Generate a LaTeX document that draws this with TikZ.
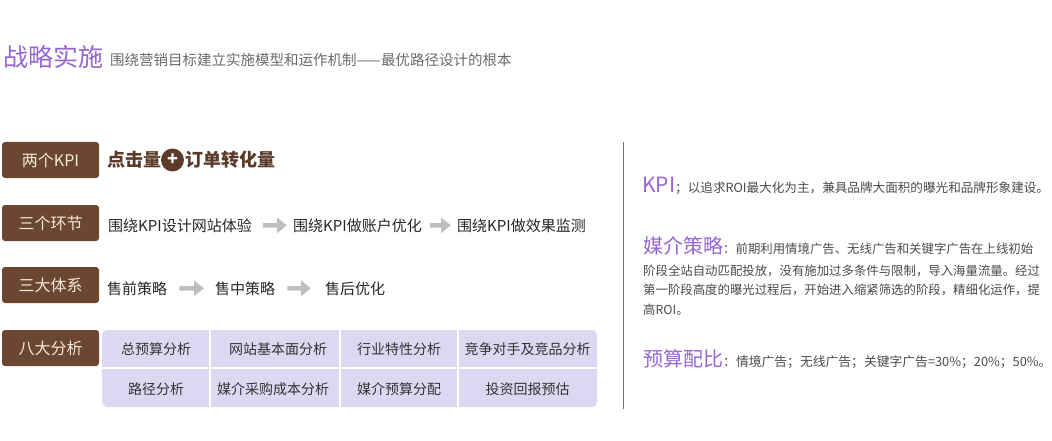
\documentclass[tikz,border=0pt]{standalone}
\usepackage{fontspec}
\setmainfont{Noto Sans CJK SC}
\usetikzlibrary{arrows.meta}
\definecolor{boxbrown}{HTML}{6B4732}
\definecolor{tbrown}{HTML}{5A3A28}
\definecolor{purp}{HTML}{9565D2}
\definecolor{lav}{HTML}{DDD7F2}
\definecolor{arrgray}{HTML}{BEBEBE}
\definecolor{subgray}{HTML}{6A6A6A}
\definecolor{bodygray}{HTML}{4A4A4A}
\definecolor{cream}{HTML}{F5E9D9}
\definecolor{linegray}{HTML}{707070}
\newcommand\myfs[1]{\fontsize{#1}{#1}\selectfont}
\tikzset{
  lbl/.style={fill=boxbrown, rounded corners=3pt, minimum width=97pt, minimum height=36pt,
    inner sep=0pt, text=cream, font=\myfs{16}},
  txt/.style={anchor=base west, inner sep=0pt},
  flow/.style={txt, text=black!85, font=\myfs{15}},
  garrow/.style={draw=arrgray, line width=4.5pt, -{Triangle[length=10pt,width=15pt]},
    shorten <=5pt, shorten >=6pt},
  cell/.style={inner sep=0pt, text=black!80, font=\myfs{14}},
  rtxt/.style={txt, text=bodygray, font=\myfs{12.4}},
}
\begin{document}
\begin{tikzpicture}[x=1pt,y=-1pt]
\useasboundingbox (0,0) rectangle (1052,441);

% title
\node[txt, text=purp, font=\myfs{25}] (title) at (3,67) {战略实施};
\node[txt, text=subgray, font=\myfs{14.5}] (sub) at (110,66) {围绕营销目标建立实施模型和运作机制——最优路径设计的根本};

% labels
\node[lbl] (b1) at (50.5,160) {两个KPI};
\node[lbl] (b2) at (50.5,223) {三个环节};
\node[lbl] (b3) at (50.5,285) {三大体系};
\node[lbl] (b4) at (50.5,348) {八大分析};

% row 1
\node[txt, text=tbrown, font=\myfs{18}\bfseries] (click) at (107,166) {点击量};
\node[circle, fill=tbrown, minimum size=23pt, inner sep=0pt, text=white, font=\myfs{18}\bfseries] (plus) at (172.5,160) {+};
\node[txt, text=tbrown, font=\myfs{18}\bfseries] (order) at (185,166) {订单转化量};

% row 2
\node[flow] (r2a) at (108,231) {围绕KPI设计网站体验};
\node[flow] (r2b) at (293,231) {围绕KPI做账户优化};
\node[flow] (r2c) at (457,231) {围绕KPI做效果监测};
\draw[garrow, shorten <=11pt] (r2a.east) -- (r2b.west);
\draw[garrow, shorten <=8pt] (r2b.east) -- (r2c.west);

% row 3
\node[flow] (r3a) at (107,294) {售前策略};
\node[flow] (r3b) at (215,294) {售中策略};
\node[flow] (r3c) at (325,294) {售后优化};
\draw[garrow, shorten <=12pt, shorten >=11pt] (r3a.east) -- (r3b.west);
\draw[garrow, shorten <=12pt, shorten >=14pt] (r3b.east) -- (r3c.west);

% grid
\fill[lav, rounded corners=5pt] (102,330) rectangle (597,407);
\draw[white, line width=2.5pt] (210,330) -- (210,407);
\draw[white, line width=2.5pt] (340,330) -- (340,407);
\draw[white, line width=2.5pt] (458,330) -- (458,407);
\draw[white, line width=2.5pt] (102,368) -- (597,368);
\node[cell] (c11) at (156,349) {总预算分析};
\node[cell] (c12) at (278,349) {网站基本面分析};
\node[cell] (c13) at (399,349) {行业特性分析};
\node[cell] (c14) at (527.5,349) {竞争对手及竞品分析};
\node[cell] (c21) at (156,389) {路径分析};
\node[cell] (c22) at (273,389) {媒介采购成本分析};
\node[cell] (c23) at (399,389) {媒介预算分配};
\node[cell] (c24) at (527.5,389) {投资回报预估};

% divider
\draw[linegray, line width=1pt] (623.5,142) -- (623.5,409);

% right column
\node[rtxt, font=\myfs{12.6}] (kpi) at (642,192) {{\color{purp}\myfs{21}KPI}；以追求ROI最大化为主，兼具品牌大面积的曝光和品牌形象建设。};
\node[rtxt] (m1) at (643,253) {{\color{purp}\myfs{20}媒介策略}：前期利用情境广告、无线广告和关键字广告在上线初始};
\node[rtxt] (m2) at (643,275) {阶段全站自动匹配投放，没有施加过多条件与限制，导入海量流量。经过};
\node[rtxt] (m3) at (643,294.5) {第一阶段高度的曝光过程后，开始进入缩紧筛选的阶段，精细化运作，提};
\node[rtxt] (m4) at (643,314) {高ROI。};
\node[rtxt, font=\myfs{12.8}] (bud) at (643,366) {{\color{purp}\myfs{20}预算配比}：情境广告；无线广告；关键字广告=30\%；20\%；50\%。};
\end{tikzpicture}
\end{document}
